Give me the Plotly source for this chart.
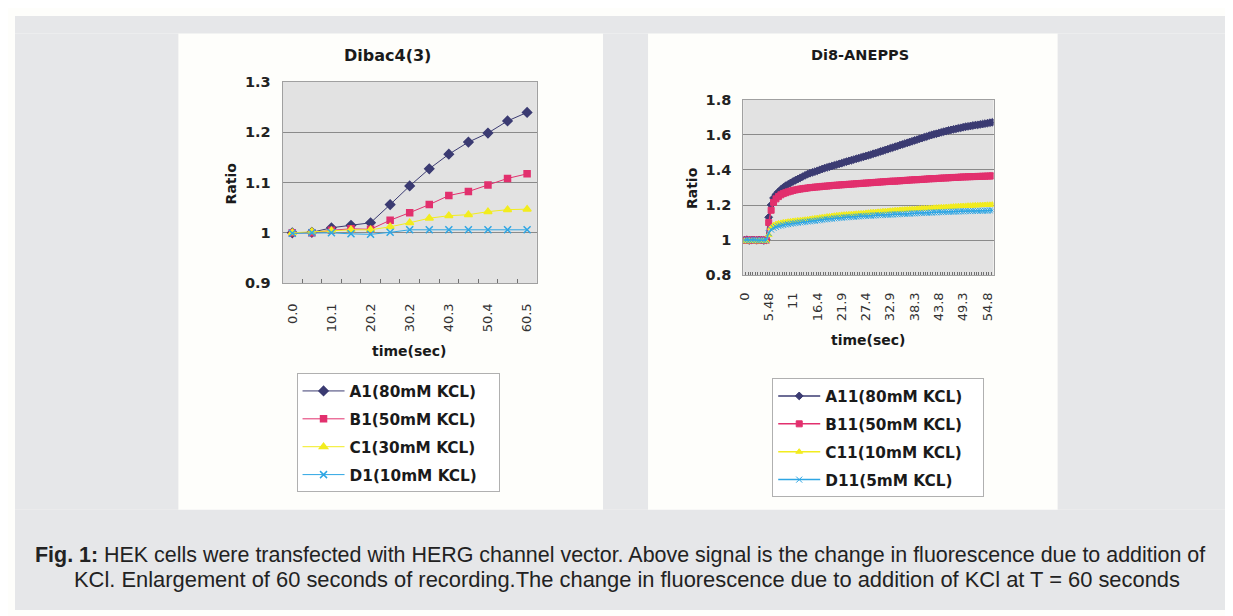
import plotly.graph_objects as go

# ---------------- data ----------------
DIBAC_TIME = ["0.0", "5.0", "10.1", "15.1", "20.2", "25.2", "30.2", "35.3",
              "40.3", "45.4", "50.4", "55.4", "60.5"]
DIBAC_TICKS = ["0.0", "10.1", "20.2", "30.2", "40.3", "50.4", "60.5"]
A1 = [1.000, 1.001, 1.010, 1.015, 1.020, 1.056, 1.093, 1.127, 1.156, 1.180, 1.198, 1.222, 1.239]
B1 = [1.000, 1.000, 1.005, 1.008, 1.007, 1.025, 1.040, 1.056, 1.074, 1.082, 1.095, 1.108, 1.117]
C1 = [1.000, 1.002, 1.004, 1.006, 1.006, 1.012, 1.020, 1.029, 1.034, 1.036, 1.042, 1.046, 1.047]
D1 = [0.999, 1.000, 1.000, 0.998, 0.997, 1.001, 1.006, 1.006, 1.006, 1.006, 1.006, 1.006, 1.006]
DIBAC_NAMES = ["A1(80mM KCL)", "B1(50mM KCL)", "C1(30mM KCL)", "D1(10mM KCL)"]

DI8_TIME = ["0", "0.55", "1.1", "1.64", "2.19", "2.74", "3.29", "3.83", "4.38", "4.93",
            "5.48", "6.02", "6.57", "7.12", "7.67", "8.21", "8.76", "9.31", "9.86", "10.4",
            "11", "11.5", "12", "12.6", "13.1", "13.7", "14.2", "14.8", "15.3", "15.9",
            "16.4", "17", "17.5", "18.1", "18.6", "19.2", "19.7", "20.3", "20.8", "21.4",
            "21.9", "22.4", "23", "23.5", "24.1", "24.6", "25.2", "25.7", "26.3", "26.8",
            "27.4", "27.9", "28.5", "29", "29.6", "30.1", "30.7", "31.2", "31.8", "32.3",
            "32.9", "33.4", "33.9", "34.5", "35", "35.6", "36.1", "36.7", "37.2", "37.8",
            "38.3", "38.9", "39.4", "40", "40.5", "41.1", "41.6", "42.2", "42.7", "43.3",
            "43.8", "44.4", "44.9", "45.4", "46", "46.5", "47.1", "47.6", "48.2", "48.7",
            "49.3", "49.8", "50.4", "50.9", "51.5", "52", "52.6", "53.1", "53.7", "54.2",
            "54.8", "55.3", "55.8"]
DI8_TICKS = ["0", "5.48", "11", "16.4", "21.9", "27.4", "32.9", "38.3", "43.8", "49.3", "54.8"]

A11 = [1.000, 1.002, 0.998, 1.001, 1.000, 0.999, 1.001, 1.000, 0.998, 1.002,
       1.130, 1.200, 1.240, 1.260, 1.275, 1.288, 1.300, 1.310, 1.318, 1.326,
       1.334, 1.341, 1.348, 1.355, 1.362, 1.369, 1.376, 1.381, 1.386, 1.390,
       1.395, 1.400, 1.405, 1.410, 1.414, 1.418, 1.422, 1.426, 1.430, 1.434,
       1.438, 1.443, 1.447, 1.451, 1.455, 1.459, 1.463, 1.467, 1.471, 1.475,
       1.479, 1.483, 1.487, 1.492, 1.496, 1.500, 1.505, 1.509, 1.514, 1.518,
       1.523, 1.527, 1.532, 1.536, 1.541, 1.545, 1.550, 1.554, 1.559, 1.563,
       1.568, 1.572, 1.577, 1.581, 1.586, 1.590, 1.595, 1.599, 1.603, 1.606,
       1.610, 1.614, 1.618, 1.621, 1.625, 1.628, 1.631, 1.634, 1.637, 1.640,
       1.643, 1.646, 1.648, 1.650, 1.653, 1.655, 1.657, 1.659, 1.661, 1.664,
       1.666, 1.669, 1.671]
B11 = [1.000, 0.999, 1.001, 1.000, 0.998, 1.001, 1.000, 0.999, 1.001, 1.000,
       1.100, 1.170, 1.215, 1.235, 1.248, 1.258, 1.265, 1.270, 1.275, 1.279,
       1.283, 1.286, 1.289, 1.291, 1.293, 1.295, 1.297, 1.299, 1.300, 1.302,
       1.303, 1.304, 1.306, 1.307, 1.308, 1.309, 1.311, 1.312, 1.313, 1.314,
       1.315, 1.316, 1.317, 1.318, 1.319, 1.320, 1.321, 1.322, 1.323, 1.324,
       1.325, 1.326, 1.327, 1.328, 1.329, 1.330, 1.331, 1.332, 1.333, 1.334,
       1.335, 1.336, 1.336, 1.337, 1.338, 1.339, 1.340, 1.341, 1.342, 1.343,
       1.344, 1.344, 1.345, 1.346, 1.347, 1.348, 1.349, 1.350, 1.350, 1.351,
       1.352, 1.353, 1.354, 1.354, 1.355, 1.356, 1.357, 1.357, 1.358, 1.359,
       1.360, 1.360, 1.361, 1.361, 1.362, 1.362, 1.363, 1.363, 1.364, 1.364,
       1.365, 1.365, 1.366]
C11 = [0.995, 0.993, 0.996, 0.994, 0.995, 0.993, 0.996, 0.994, 0.995, 0.994,
       1.030, 1.070, 1.085, 1.091, 1.095, 1.098, 1.101, 1.103, 1.105, 1.107,
       1.109, 1.110, 1.112, 1.113, 1.115, 1.116, 1.118, 1.120, 1.122, 1.124,
       1.126, 1.128, 1.130, 1.132, 1.134, 1.135, 1.137, 1.139, 1.141, 1.142,
       1.144, 1.145, 1.146, 1.147, 1.148, 1.149, 1.150, 1.151, 1.152, 1.153,
       1.155, 1.156, 1.158, 1.159, 1.160, 1.161, 1.162, 1.164, 1.165, 1.166,
       1.167, 1.168, 1.170, 1.171, 1.172, 1.173, 1.174, 1.175, 1.176, 1.176,
       1.177, 1.178, 1.179, 1.180, 1.181, 1.181, 1.182, 1.183, 1.184, 1.185,
       1.186, 1.187, 1.187, 1.188, 1.189, 1.190, 1.191, 1.192, 1.193, 1.194,
       1.194, 1.195, 1.196, 1.196, 1.197, 1.198, 1.198, 1.199, 1.200, 1.200,
       1.201, 1.201, 1.202]
D11 = [1.000, 1.001, 0.999, 1.000, 1.002, 1.000, 0.999, 1.001, 1.000, 0.999,
       1.040, 1.060, 1.070, 1.075, 1.080, 1.083, 1.086, 1.089, 1.091, 1.093,
       1.095, 1.097, 1.099, 1.101, 1.102, 1.104, 1.106, 1.107, 1.109, 1.110,
       1.112, 1.113, 1.116, 1.118, 1.119, 1.121, 1.122, 1.124, 1.125, 1.127,
       1.128, 1.129, 1.130, 1.131, 1.132, 1.133, 1.134, 1.135, 1.136, 1.137,
       1.138, 1.139, 1.139, 1.140, 1.141, 1.142, 1.142, 1.143, 1.144, 1.145,
       1.145, 1.146, 1.147, 1.147, 1.148, 1.149, 1.150, 1.150, 1.151, 1.152,
       1.152, 1.153, 1.154, 1.154, 1.155, 1.156, 1.156, 1.157, 1.158, 1.158,
       1.159, 1.159, 1.160, 1.161, 1.161, 1.162, 1.162, 1.163, 1.163, 1.164,
       1.164, 1.165, 1.165, 1.165, 1.166, 1.166, 1.167, 1.167, 1.167, 1.168,
       1.168, 1.169, 1.169]
DI8_NAMES = ["A11(80mM KCL)", "B11(50mM KCL)", "C11(10mM KCL)", "D11(5mM KCL)"]

for s in (A11, B11, C11, D11):
    assert len(s) == len(DI8_TIME), len(s)
for s in (A1, B1, C1, D1):
    assert len(s) == len(DIBAC_TIME)

CAPTION_1 = ("<b>Fig. 1:</b> HEK cells were transfected with HERG channel vector. "
             "Above signal is the change in fluorescence due to addition of")
CAPTION_2 = ("KCl. Enlargement of 60 seconds of recording.The change in fluorescence "
             "due to addition of KCl at T = 60 seconds")

# ---------------- geometry ----------------
# positions below are given in pixels of the final 1233x616 picture;
# they are converted to figure-paper fractions (page offset + capture scale).
SX, SY = 0.992, 0.971
O = 16
W, H = 1219, 610

def px(x): return (x / SX - O) / W
def py(y): return 1 - (y / SY - O) / H

COLORS = ["#3b3b72", "#e2306e", "#f2ec1e", "#2ea6e4"]
SYMBOLS = ["diamond", "square", "triangle-up", "x-thin"]
SIZES_L = [7, 6, 7, 7]
SIZES_R = [6, 6, 6, 6]
BOLD = "DejaVu Sans"
PAGE = "#e6e7e9"
CARD = "#fefefb"
PLOTBG = "#e2e2e2"

fig = go.Figure()
PAD = "\u00a0\u00a0\u00a0"

for name, ys, c, sym, sz, g in zip(DIBAC_NAMES, [A1, B1, C1, D1], COLORS, SYMBOLS, SIZES_L, "abcd"):
    fig.add_trace(go.Scatter(
        x=DIBAC_TIME, y=ys, name=name + PAD, mode="lines+markers",
        line=dict(color=c, width=1),
        marker=dict(symbol=sym, size=sz, color=c, line=dict(color=c, width=1.5)),
        xaxis="x", yaxis="y", legend="legend", legendgroup="L" + g))

for name, ys, c, sym, sz, g in zip(DI8_NAMES, [A11, B11, C11, D11], COLORS, SYMBOLS, SIZES_R, "abcd"):
    fig.add_trace(go.Scatter(
        x=DI8_TIME, y=ys, name=name + PAD, mode="lines+markers",
        line=dict(color=c, width=1.5),
        marker=dict(symbol=sym, size=sz, color=c, line=dict(color=c, width=1)),
        xaxis="x2", yaxis="y2", legend="legend2", legendgroup="R" + g))

def xaxis_cfg(cats, ticks, dom, anchor, ticklen, standoff):
    return dict(
        domain=dom, anchor=anchor, type="category",
        range=[-0.5, len(cats) - 0.5],
        tickmode="array", tickvals=cats,
        ticktext=[t if t in ticks else "" for t in cats],
        tickson="boundaries", ticks="inside", ticklen=ticklen, tickcolor="#707070",
        tickangle=-90, tickfont=dict(family="DejaVu Sans", size=13, color="#333"),
        ticklabelstandoff=standoff,
        showgrid=False, showline=True, linecolor="#a0a0a0", linewidth=1, mirror=True,
        zeroline=False, fixedrange=True)

def yaxis_cfg(rng, dt, dom, anchor):
    return dict(
        domain=dom, anchor=anchor, range=rng, dtick=dt, tick0=rng[0],
        showgrid=True, gridcolor="#8a8a8a", gridwidth=1,
        showline=True, linecolor="#a0a0a0", linewidth=1, mirror=True,
        ticks="", ticklabelstandoff=8, zeroline=False,
        tickfont=dict(family=BOLD, size=14.5, color="#222", weight="bold"),
        fixedrange=True)

legend_font = dict(family=BOLD, size=15.3, color="#1a1a1a", weight="bold")

fig.update_layout(
    width=W, height=H,
    margin=dict(l=0, r=0, t=0, b=0),
    paper_bgcolor=CARD, plot_bgcolor=PLOTBG,
    showlegend=True,
    xaxis=xaxis_cfg(DIBAC_TIME, DIBAC_TICKS, [px(283), px(537)], "y", 4, 14),
    yaxis=yaxis_cfg([0.9, 1.3], 0.1, [py(282), py(81)], "x"),
    xaxis2=xaxis_cfg(DI8_TIME, DI8_TICKS, [px(743), px(993)], "y2", 3, 11),
    yaxis2=yaxis_cfg([0.8, 1.8], 0.2, [py(274), py(99)], "x2"),
    legend=dict(x=px(297), y=py(372), xanchor="left", yanchor="top",
                bgcolor="#ffffff", bordercolor="#b0b0b0", borderwidth=1,
                font=legend_font, tracegroupgap=5, itemwidth=42),
    legend2=dict(x=px(772), y=py(377), xanchor="left", yanchor="top",
                 bgcolor="#ffffff", bordercolor="#b0b0b0", borderwidth=1,
                 font=legend_font, tracegroupgap=5, itemwidth=42),
)

# page background around the two white cards (extends past the figure edges)
gray_rects = [(0, 0, 1300, 33), (0, 33, 179, 508), (603, 33, 648, 508),
              (1057, 33, 1300, 508), (0, 508, 1300, 700)]
for x0, y0, x1, y1 in gray_rects:
    fig.add_shape(type="rect", xref="paper", yref="paper",
                  x0=max(px(x0), 0), x1=min(px(x1), 1), y0=max(py(y1), 0), y1=min(py(y0), 1),
                  fillcolor=PAGE, line=dict(width=0), layer="below")

def ann(text, x, y, size=14, angle=0, xanchor="center", family=BOLD, weight="bold", color="#1a1a1a"):
    fig.add_annotation(text=text, x=px(x), y=py(y), xref="paper", yref="paper",
                       showarrow=False, textangle=angle, xanchor=xanchor, yanchor="middle",
                       font=dict(family=family, size=size, color=color, weight=weight))

ann("Dibac4(3)", 388, 55, size=16)
ann("Di8-ANEPPS", 860, 54, size=14.5)
ann("Ratio", 231, 182, size=14, angle=-90)
ann("Ratio", 692, 187, size=14, angle=-90)
ann("time(sec)", 410, 350, size=14)
ann("time(sec)", 868, 339, size=14)

ann(CAPTION_1, 34, 553, size=21.45, xanchor="left", family="Liberation Sans", weight="normal", color="#222")
ann(CAPTION_2, 73, 577, size=21.9, xanchor="left", family="Liberation Sans", weight="normal", color="#222")

fig.write_html("out.html")
